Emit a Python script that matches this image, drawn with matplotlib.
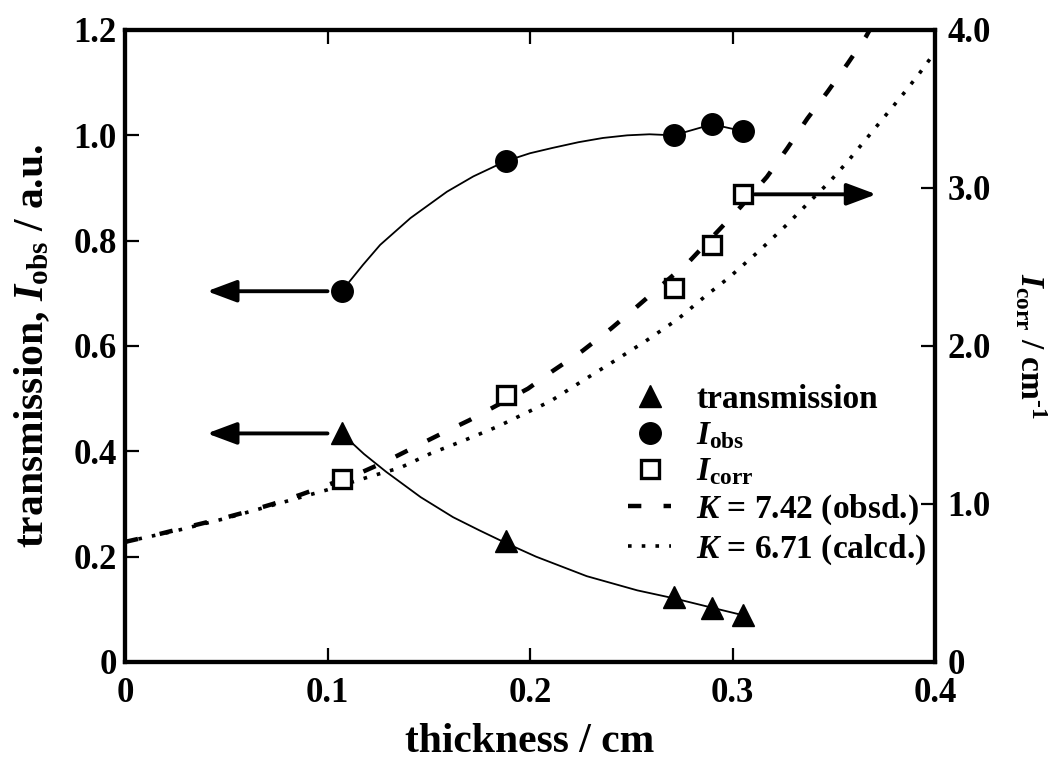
import matplotlib
matplotlib.use("Agg")
import matplotlib.pyplot as plt

# 測試資料
thick = [0.107, 0.188, 0.271, 0.290, 0.305]
trans = [0.434, 0.229, 0.123, 0.103, 0.089]
i_obs = [0.704, 0.951, 1.000, 1.021, 1.008]
i_corr = [1.16, 1.69, 2.37, 2.64, 2.96]

# guide curves through the points
trans_cx = [0.107, 0.118, 0.129, 0.146, 0.162, 0.175, 0.188, 0.203, 0.228, 0.253, 0.271, 0.290, 0.305]
trans_cy = [0.434, 0.395, 0.361, 0.313, 0.275, 0.250, 0.226, 0.200, 0.163, 0.136, 0.121, 0.103, 0.089]
obs_cx = [0.107, 0.1175, 0.126, 0.141, 0.159, 0.172, 0.188, 0.200, 0.211, 0.224, 0.236, 0.248, 0.259,
          0.271, 0.290, 0.305]
obs_cy = [0.704, 0.754, 0.792, 0.843, 0.893, 0.922, 0.951, 0.966, 0.976, 0.987, 0.995, 1.000, 1.002,
          1.000, 1.021, 1.008]

# K = 7.42 (obsd.)
obsd_x = [0.0, 0.017, 0.031, 0.047, 0.058, 0.073, 0.087, 0.100, 0.116, 0.129, 0.142, 0.157,
          0.170, 0.199, 0.211, 0.226, 0.240, 0.252, 0.279, 0.293, 0.304, 0.317, 0.327,
          0.337, 0.347, 0.357, 0.366, 0.369]
obsd_y = [0.76, 0.81, 0.855, 0.905, 0.943, 1.00, 1.06, 1.12, 1.196, 1.27, 1.354, 1.45,
          1.53, 1.73, 1.84, 1.97, 2.11, 2.24, 2.54, 2.73, 2.88, 3.07, 3.25,
          3.44, 3.61, 3.79, 3.96, 4.03]
# K = 6.71 (calcd.)
calcd_x = [0.0, 0.025, 0.05, 0.075, 0.100, 0.120, 0.136, 0.151, 0.167, 0.184, 0.210, 0.226,
           0.241, 0.257, 0.273, 0.287, 0.298, 0.313, 0.327, 0.337, 0.348, 0.357, 0.366,
           0.375, 0.384, 0.392, 0.400]
calcd_y = [0.76, 0.83, 0.91, 1.00, 1.09, 1.17, 1.23, 1.32, 1.40, 1.49, 1.65, 1.78,
           1.90, 2.03, 2.17, 2.32, 2.43, 2.60, 2.77, 2.90, 3.04, 3.17, 3.31,
           3.45, 3.59, 3.72, 3.86]

x_ticks = [0, 0.1, 0.2, 0.3, 0.4]
x_labels = ["0", "0.1", "0.2", "0.3", "0.4"]
yl_ticks = [0, 0.2, 0.4, 0.6, 0.8, 1.0, 1.2]
yl_labels = ["0", "0.2", "0.4", "0.6", "0.8", "1.0", "1.2"]
yr_ticks = [0, 1, 2, 3, 4]
yr_labels = ["0", "1.0", "2.0", "3.0", "4.0"]

plt.rcParams["font.family"] = ["Liberation Serif", "DejaVu Serif"]
plt.rcParams["font.weight"] = "bold"
plt.rcParams["mathtext.fontset"] = "custom"
plt.rcParams["mathtext.rm"] = "Liberation Serif:bold"
plt.rcParams["mathtext.bf"] = "Liberation Serif:bold"
plt.rcParams["mathtext.it"] = "Liberation Serif:italic:bold"
plt.rcParams["axes.linewidth"] = 3.0

TICK_FS = 25
LABEL_FS = 30
LEG_FS = 24

fig = plt.figure(figsize=(10.53, 7.67), dpi=100)
ax = fig.add_axes([125 / 1053, 1 - 662 / 767, 810 / 1053, 632 / 767])
ax2 = ax.twinx()

# left axis: transmission and I_obs
ax.plot(trans_cx, trans_cy, color="black", lw=1.3)
ax.plot(obs_cx, obs_cy, color="black", lw=1.3)
h_tr, = ax.plot(thick, trans, linestyle="none", marker="^", ms=15.5, color="black")
h_ob, = ax.plot(thick, i_obs, linestyle="none", marker="o", ms=15.5, color="black")

# right axis: I_corr and the two K curves
h_k1, = ax2.plot(obsd_x, obsd_y, color="black", lw=3.2, dashes=(3.0, 5.0))
h_k2, = ax2.plot(calcd_x, calcd_y, color="black", lw=2.6, dashes=(1.0, 2.8))
h_co, = ax2.plot(thick, i_corr, linestyle="none", marker="s", ms=13, mew=2.4,
                 mfc="white", mec="black")

# arrows pointing to the axis each series belongs to
arrow = dict(arrowstyle="-|>,head_length=0.75,head_width=0.28", lw=2.8,
             color="black", mutation_scale=24, shrinkA=0, shrinkB=0)
ax.annotate("", xy=(0.0405, i_obs[0]), xytext=(thick[0] - 0.007, i_obs[0]), arrowprops=arrow)
ax.annotate("", xy=(0.0405, trans[0]), xytext=(thick[0] - 0.007, trans[0]), arrowprops=arrow)
ax2.annotate("", xy=(0.371, i_corr[-1]), xytext=(thick[-1] + 0.006, i_corr[-1]), arrowprops=arrow)

ax.set_xlim(0, 0.4)
ax.set_ylim(0, 1.2)
ax2.set_ylim(0, 4.0)
ax.set_xticks(x_ticks)
ax.set_xticklabels(x_labels)
ax.set_yticks(yl_ticks)
ax.set_yticklabels(yl_labels)
ax2.set_yticks(yr_ticks)
ax2.set_yticklabels(yr_labels)

ax.tick_params(axis="x", direction="in", top=True, length=10, width=1.6, labelsize=TICK_FS, pad=11)
ax.tick_params(axis="y", direction="in", right=False, length=10, width=1.6, labelsize=TICK_FS, pad=6)
ax2.tick_params(axis="y", direction="in", length=10, width=1.6, labelsize=TICK_FS, pad=9)
for t in ax.get_xticklabels() + ax.get_yticklabels() + ax2.get_yticklabels():
    t.set_fontweight("bold")

ax.set_xlabel("thickness / cm", fontsize=LABEL_FS, fontweight="bold", va="center")
ax.xaxis.set_label_coords(0.5, (662 - 742) / 632)
ax.set_ylabel(r"transmission, $I_{\rm obs}$ / a.u.", fontsize=LABEL_FS, fontweight="bold",
              va="center")
ax.yaxis.set_label_coords((32 - 125) / 810, 0.5)
ax2.set_ylabel(r"$I_{\rm corr}$ / cm$^{\text{-1}}$", fontsize=LEG_FS, fontweight="bold",
               rotation=-90, va="center")
ax2.yaxis.set_label_coords((1030 - 125) / 810, 0.5)

leg = ax2.legend(
    [h_tr, h_ob, h_co, h_k1, h_k2],
    ["transmission", r"$I_{\rm obs}$", r"$I_{\rm corr}$",
     r"$K$ = 7.42 (obsd.)", r"$K$ = 6.71 (calcd.)"],
    loc="upper left", bbox_to_anchor=(0.621, 0.44), bbox_transform=ax2.transAxes,
    frameon=False, handlelength=1.3, handletextpad=0.75,
    labelspacing=0.16, borderpad=0, borderaxespad=0, numpoints=1,
    prop={"size": LEG_FS, "weight": "bold"},
)

fig.savefig("out.png", dpi=100)
